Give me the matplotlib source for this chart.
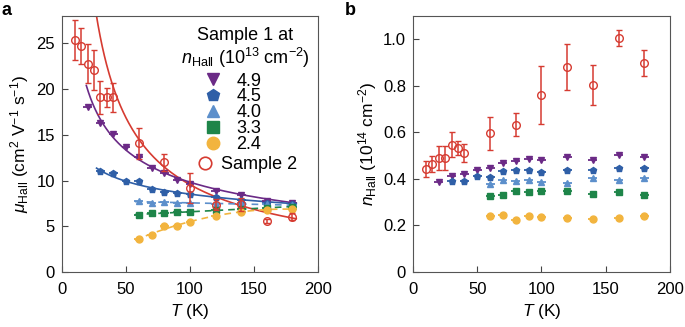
import numpy as np
import matplotlib
matplotlib.use("Agg")
import matplotlib.pyplot as plt
from matplotlib.lines import Line2D

plt.rcParams['font.family'] = ['Liberation Sans', 'DejaVu Sans']
plt.rcParams['mathtext.fontset'] = 'custom'
plt.rcParams['mathtext.rm'] = 'Liberation Sans'
plt.rcParams['mathtext.it'] = 'Liberation Sans:italic'
plt.rcParams['mathtext.bf'] = 'Liberation Sans:bold'

# ---------------- data ----------------
# Sample 1, one series per carrier density (10^13 cm^-2)
dens_labels = ['4.9', '4.5', '4.0', '3.3', '2.4']

T_49 = [20, 30, 40, 50, 60, 70, 80, 90, 100, 120, 140, 160, 180]
mu_49 = [18.0, 16.3, 15.1, 13.7, 12.6, 11.4, 10.8, 10.1, 9.6, 8.9, 8.4, 7.8, 7.6]
n_49 = [0.387, 0.414, 0.423, 0.437, 0.447, 0.469, 0.477, 0.484, 0.483, 0.492, 0.483, 0.504, 0.494]

T_45 = [30, 40, 50, 60, 70, 80, 90, 100, 120, 140, 160, 180]
mu_45 = [11.1, 10.8, 10.0, 9.9, 9.1, 8.8, 8.6, 8.5, 8.2, 7.9, 7.6, 7.4]
n_45 = [0.390, 0.390, 0.414, 0.408, 0.433, 0.437, 0.440, 0.430, 0.440, 0.440, 0.447, 0.447]

T_40 = [60, 70, 80, 90, 100, 120, 140, 160, 180]
mu_40 = [7.8, 7.5, 7.7, 7.6, 7.55, 7.4, 7.5, 7.4, 7.3]
n_40 = [0.378, 0.394, 0.391, 0.394, 0.385, 0.384, 0.405, 0.397, 0.403]

T_33 = [60, 70, 80, 90, 100, 120, 140, 160, 180]
mu_33 = [6.2, 6.4, 6.4, 6.6, 6.6, 6.8, 6.9, 7.0, 7.1]
n_33 = [0.326, 0.330, 0.347, 0.344, 0.349, 0.347, 0.337, 0.344, 0.333]

T_24 = [60, 70, 80, 90, 100, 120, 140, 160, 180]
mu_24 = [3.6, 4.1, 5.0, 5.0, 5.5, 6.1, 6.6, 6.8, 6.9]
n_24 = [0.241, 0.244, 0.223, 0.241, 0.237, 0.230, 0.226, 0.230, 0.240]

# Sample 2
T_s2 = [10, 15, 20, 25, 30, 35, 40, 60, 80, 100, 120, 140, 160, 180]
mu_s2 = [25.4, 24.7, 22.8, 22.1, 19.1, 19.1, 19.1, 14.1, 12.0, 9.2, 7.35, 7.4, 5.6, 6.05]
mu_s2_err = [2.2, 2.0, 2.1, 2.2, 1.8, 1.0, 1.6, 1.7, 0.95, 1.6, 0.6, 0.7, 0.25, 0.4]
n_s2 = [0.443, 0.464, 0.490, 0.490, 0.547, 0.533, 0.511, 0.596, 0.633, 0.759, 0.882, 0.804, 1.004, 0.899]
n_s2_err = [0.035, 0.035, 0.05, 0.05, 0.055, 0.03, 0.04, 0.07, 0.05, 0.125, 0.098, 0.085, 0.035, 0.057]

T_half_width = 3.5  # temperature uncertainty (K)

# power-law fits mu = A * (T / T0)^(-gamma): (A, T0, gamma, T_start)
fit_s2 = (5.9, 180.0, 0.82, 20.0)
fit_49 = (20.4, 19.0, 0.44, 19.0)
fit_45 = (11.1, 30.0, 0.22, 27.0)

# ---------------- styles ----------------
c_purple = '#6b2a86'
c_blue = '#2f5fa7'
c_lblue = '#5c8fcb'
c_green = '#1e8549'
c_yellow = '#f2b43e'
c_red = '#d63b31'

series = [
    (T_49, mu_49, n_49, 'v', c_purple),
    (T_45, mu_45, n_45, 'p', c_blue),
    (T_40, mu_40, n_40, '^', c_lblue),
    (T_33, mu_33, n_33, 's', c_green),
    (T_24, mu_24, n_24, 'o', c_yellow),
]

W, H = 685, 327
fig = plt.figure(figsize=(W / 100, H / 100), dpi=100)
axA = fig.add_axes([62 / W, 55 / H, 256 / W, 256 / H])
axB = fig.add_axes([413 / W, 55 / H, 257 / W, 256 / H])


def ax_xy(px, py):
    """Pixel position inside panel a -> axes fraction."""
    return (px - 62) / 256, (272 - py) / 256


T_end = 183


def power_curve(ax, fit, color):
    A, T0, g, t0 = fit
    t = np.linspace(t0, T_end, 300)
    ax.plot(t, A * (t / T0) ** (-g), color=color, lw=1.2, zorder=2)


def lin_curve(ax, T, y, deg, color):
    coef = np.polyfit(T, y, deg)
    t = np.linspace(57, T_end, 200)
    ax.plot(t, np.polyval(coef, t), color=color, lw=1.2, ls=(0, (4, 3)), zorder=2)


# ---- panel a ----
power_curve(axA, fit_s2, c_red)
power_curve(axA, fit_49, c_purple)
power_curve(axA, fit_45, c_blue)
lin_curve(axA, T_40, mu_40, 1, c_lblue)
lin_curve(axA, T_33, mu_33, 1, c_green)
lin_curve(axA, T_24, mu_24, 2, c_yellow)

for T, mu, n, m, c in series:
    axA.errorbar(T, mu, xerr=T_half_width, fmt=m, ms=5, color=c, mec=c,
                 elinewidth=1.3, capsize=0, zorder=3)
    axB.errorbar(T, n, xerr=T_half_width, fmt=m, ms=5, color=c, mec=c,
                 elinewidth=1.3, capsize=0, zorder=3)

for ax, y, e in [(axA, mu_s2, mu_s2_err), (axB, n_s2, n_s2_err)]:
    ax.errorbar(T_s2, y, yerr=e, fmt='o', ms=5.5, mfc='none', mec=c_red, mew=1.0,
                color=c_red, elinewidth=1.1, capsize=2.5, capthick=1.1, zorder=4)

FS_TICK = 12
FS_LAB = 12.5
FS_LEG = 13

axA.set_xlim(0, 200)
axA.set_ylim(0, 28)
axA.set_xticks([0, 50, 100, 150, 200])
axA.set_yticks([0, 5, 10, 15, 20, 25])
axA.set_xlabel('$T$ (K)', fontsize=FS_LAB, labelpad=4)
axA.set_ylabel('$\\mu_{\\rm Hall}$ (cm$^2$ V$^{-1}$ s$^{-1}$)', fontsize=FS_LAB, labelpad=4)

axB.set_xlim(0, 200)
axB.set_ylim(0, 1.1)
axB.set_xticks([0, 50, 100, 150, 200])
axB.set_yticks([0, 0.2, 0.4, 0.6, 0.8, 1.0])
axB.set_yticklabels(['0', '0.2', '0.4', '0.6', '0.8', '1.0'])
axB.set_xlabel('$T$ (K)', fontsize=FS_LAB, labelpad=4)
axB.set_ylabel('$n_{\\rm Hall}$ (10$^{14}$ cm$^{-2}$)', fontsize=FS_LAB, labelpad=3)

for ax in (axA, axB):
    ax.tick_params(direction='in', length=4, width=0.8, labelsize=FS_TICK,
                   color='#444444', top=False, right=False)
    ax.tick_params(axis='x', pad=7)
    ax.tick_params(axis='y', pad=5)
    for s in ax.spines.values():
        s.set_linewidth(0.8)
        s.set_color('#555555')

# ---- legend ----
tx, ty1 = ax_xy(245, 40)
_, ty2 = ax_xy(245, 64)
axA.text(tx, ty1, 'Sample 1 at', transform=axA.transAxes, ha='center',
         va='baseline', fontsize=FS_LEG)
axA.text(tx, ty2, '$n_{\\rm Hall}$ (10$^{13}$ cm$^{-2}$)', transform=axA.transAxes,
         ha='center', va='baseline', fontsize=FS_LEG)

handles1 = [Line2D([], [], ls='none', marker=m, ms=9, color=c, mec=c)
            for (_, _, _, m, c) in series]
leg1 = axA.legend(handles1, dens_labels, loc='upper left',
                  bbox_to_anchor=ax_xy(205.8, 72.5), frameon=False,
                  fontsize=FS_LEG, handlelength=0.8, handletextpad=0.9,
                  labelspacing=-0.06, borderpad=0, borderaxespad=0)
axA.add_artist(leg1)
handle2 = Line2D([], [], ls='none', marker='o', ms=9, mfc='none', mec=c_red, mew=1.2)
axA.legend([handle2], ['Sample 2'], loc='upper left',
           bbox_to_anchor=ax_xy(197.8, 156), frameon=False, fontsize=FS_LEG,
           handlelength=0.8, handletextpad=0.5, borderpad=0, borderaxespad=0)

fig.text(2 / W, 1 - 2 / H, 'a', fontsize=13, fontweight='bold', va='top', ha='left')
fig.text(345 / W, 1 - 2 / H, 'b', fontsize=13, fontweight='bold', va='top', ha='left')

fig.savefig('out.png', dpi=100)
